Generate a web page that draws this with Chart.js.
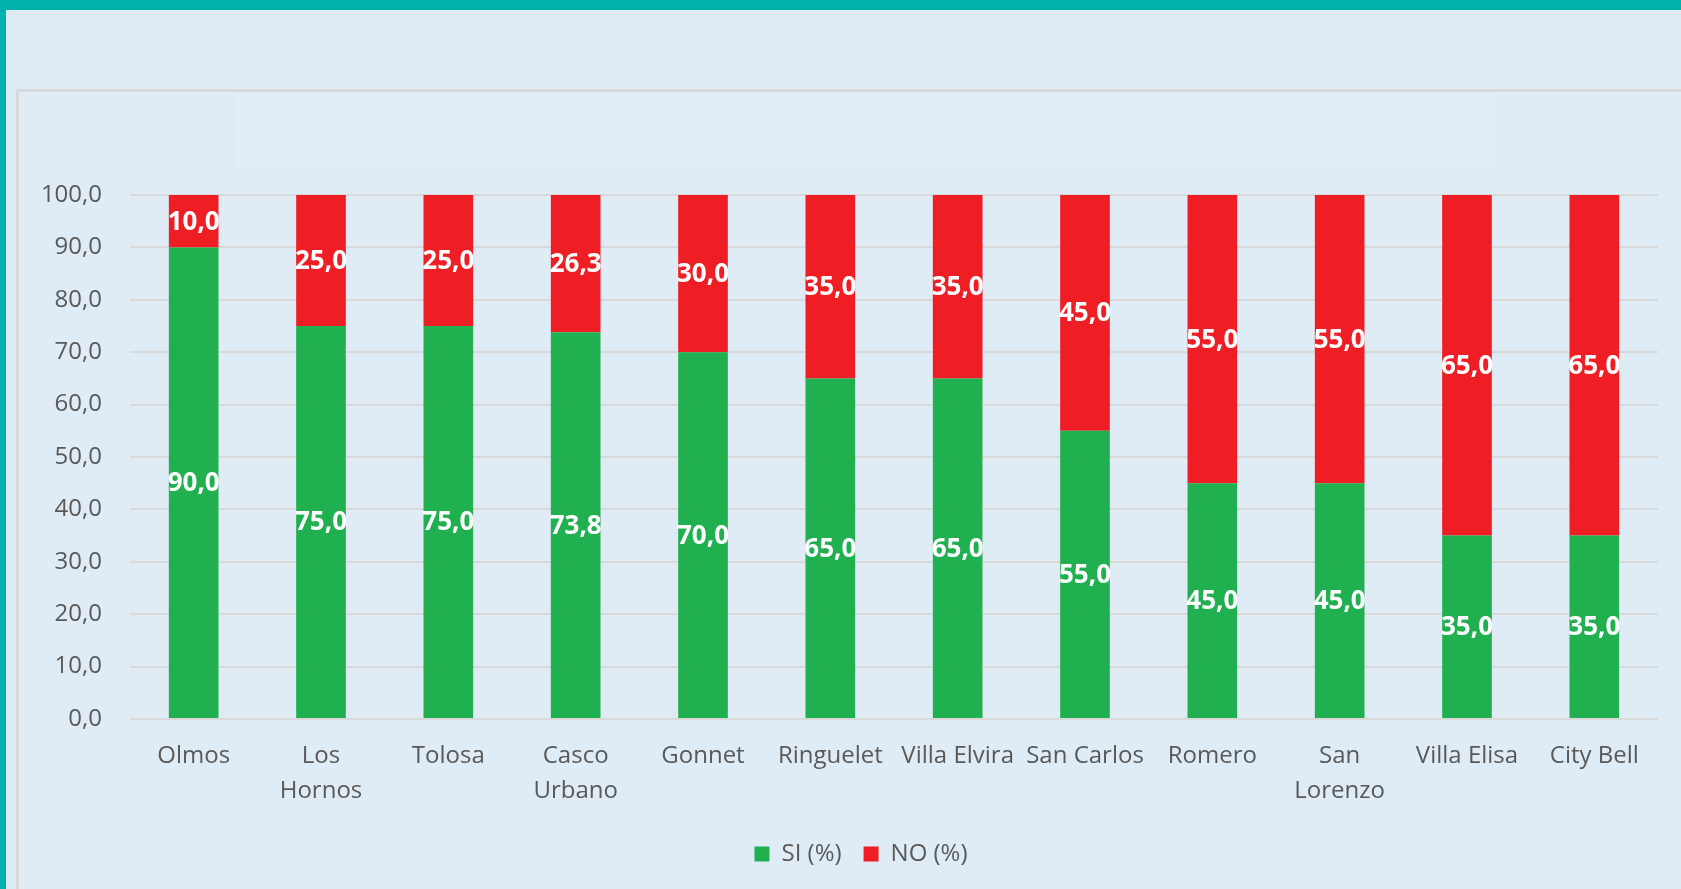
<!DOCTYPE html>
<html>
<head>
<meta charset="utf-8">
<script src="https://cdn.jsdelivr.net/npm/chart.js@4.4.1/dist/chart.umd.min.js"></script>
<style>
  html, body { margin: 0; padding: 0; width: 1681px; height: 889px; overflow: hidden; background: #00b0ad; }
  #frame { position: absolute; left: 6px; top: 10px; right: 0; bottom: 0; background: #dfecf6; }
  #box { position: absolute; left: 16px; top: 89px; width: 1700px; height: 900px; border-top: 3px solid #d6d8da; border-left: 3px solid #d6d8da; }
  #glow { position: absolute; left: 236px; top: 93px; width: 1258px; height: 74px; background: #e1eef8; }
  #c { position: absolute; left: 0; top: 0; }
</style>
</head>
<body>
<div id="frame"></div>
<div id="box"></div>
<div id="glow"></div>
<canvas id="c" width="1681" height="889"></canvas>
<script>
const categories = ['Olmos', ['Los', 'Hornos'], 'Tolosa', ['Casco', 'Urbano'], 'Gonnet', 'Ringuelet', 'Villa Elvira', 'San Carlos', 'Romero', ['San', 'Lorenzo'], 'Villa Elisa', 'City Bell'];
const siValues = [90.0, 75.0, 75.0, 73.8, 70.0, 65.0, 65.0, 55.0, 45.0, 45.0, 35.0, 35.0];
const noValues = [10.0, 25.0, 25.0, 26.3, 30.0, 35.0, 35.0, 45.0, 55.0, 55.0, 65.0, 65.0];
const seriesNames = ['SI (%)', 'NO (%)'];
const yTicks = [0, 10, 20, 30, 40, 50, 60, 70, 80, 90, 100];

const fmt = v => Number(v).toFixed(1).replace('.', ',');
const FONT = "'Open Sans', 'DejaVu Sans', sans-serif";

const valueLabels = {
  id: 'valueLabels',
  afterDatasetsDraw(chart) {
    const ctx = chart.ctx;
    ctx.save();
    ctx.font = "bold 26px " + FONT;
    ctx.fillStyle = '#ffffff';
    ctx.textAlign = 'center';
    ctx.textBaseline = 'middle';
    chart.data.datasets.forEach((ds, di) => {
      const meta = chart.getDatasetMeta(di);
      meta.data.forEach((bar, i) => {
        const p = bar.getProps(['x', 'y', 'base'], true);
        ctx.fillText(fmt(ds.data[i]), p.x, (p.y + p.base) / 2 + 1);
      });
    });
    ctx.restore();
  }
};

// shift the legend's centring box so it is centred like the original chart area
const legendShift = {
  id: 'legendShift',
  beforeDraw(chart) {
    const lg = chart.legend;
    if (lg) {
      lg.left = 64;
      lg.width = lg.right - lg.left;
    }
  }
};

new Chart(document.getElementById('c'), {
  type: 'bar',
  data: {
    labels: categories,
    datasets: [
      { label: seriesNames[0], data: siValues, backgroundColor: '#21b04f', borderWidth: 0 },
      { label: seriesNames[1], data: noValues, backgroundColor: '#ef1e24', borderWidth: 0 }
    ]
  },
  options: {
    responsive: false,
    animation: false,
    devicePixelRatio: 1,
    layout: { padding: { left: 0, right: 23, top: 195, bottom: 13 } },
    datasets: { bar: { categoryPercentage: 1.0, barPercentage: 0.39 } },
    plugins: {
      tooltip: { enabled: false },
      legend: {
        position: 'bottom',
        labels: {
          font: { family: FONT, size: 24 },
          color: '#595959',
          boxWidth: 15,
          boxHeight: 15,
          padding: 22
        }
      }
    },
    scales: {
      x: {
        stacked: true,
        grid: { display: false, drawTicks: false },
        border: { display: false },
        ticks: {
          font: { family: FONT, size: 24, lineHeight: 1.45 },
          color: '#595959',
          maxRotation: 0,
          minRotation: 0,
          autoSkip: false,
          padding: 20
        },
        afterFit: s => { s.height = 101; }
      },
      y: {
        stacked: true,
        min: 0,
        max: 100,
        afterBuildTicks: s => { s.ticks = yTicks.map(v => ({ value: v })); },
        grid: { color: '#d9d9d9', lineWidth: 2, drawTicks: false },
        border: { display: false },
        ticks: {
          font: { family: FONT, size: 24 },
          color: '#595959',
          padding: 28,
          callback: v => fmt(v)
        },
        afterFit: s => { s.width = 130; }
      }
    }
  },
  plugins: [valueLabels, legendShift]
});
</script>
</body>
</html>
